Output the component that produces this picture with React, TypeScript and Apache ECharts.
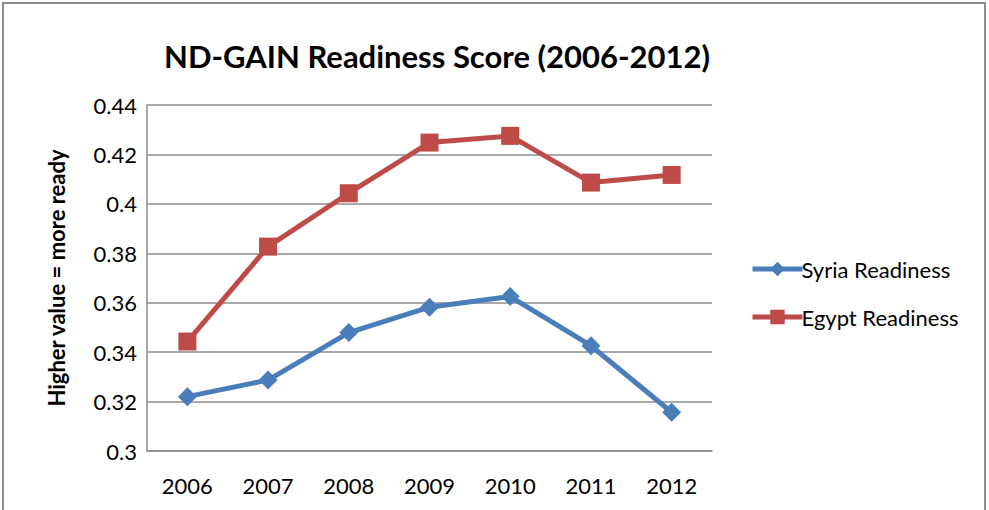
import React, { useEffect, useRef } from "react";
import * as echarts from "echarts";

const years = ["2006", "2007", "2008", "2009", "2010", "2011", "2012"];
const syria = [0.322, 0.3287, 0.3479, 0.3582, 0.3625, 0.3426, 0.3157];
const egypt = [0.3443, 0.3827, 0.4043, 0.4248, 0.4275, 0.4086, 0.4117];
const yTicks = { min: 0.3, max: 0.44, interval: 0.02 };

const FONT = "Lato, 'Open Sans', sans-serif";

export default function App() {
  const ref = useRef<HTMLDivElement>(null);
  useEffect(() => {
    if (!ref.current) return;
    const chart = echarts.init(ref.current, null, { renderer: "svg" });
    chart.setOption({
      animation: false,
      backgroundColor: "#ffffff",
      textStyle: { fontFamily: FONT },
      title: {
        text: "ND-GAIN Readiness Score (2006-2012)",
        left: 432,
        textAlign: "center",
        top: 35,
        textStyle: { fontFamily: FONT, fontWeight: "bold", fontSize: 31, color: "#000" },
      },
      graphic: [
        {
          type: "rect",
          shape: { x: 3, y: 3, width: 982, height: 530 },
          style: { fill: "none", stroke: "#8c8c8c", lineWidth: 2 },
          silent: true,
        },
      ],
      legend: {
        orient: "vertical",
        left: 745,
        top: 253,
        itemWidth: 50,
        itemHeight: 18,
        itemGap: 26,
        lineStyle: { width: 5 },
        textStyle: { fontFamily: FONT, fontSize: 22, color: "#000", padding: [0, 0, 0, -6] },
        data: ["Syria Readiness", "Egypt Readiness"],
      },
      grid: { left: 147, right: 277, top: 105, bottom: 59, containLabel: false },
      xAxis: {
        type: "category",
        data: years,
        boundaryGap: true,
        axisLine: { lineStyle: { color: "#8c8c8c", width: 1.5 } },
        axisTick: { show: false },
        axisLabel: { fontFamily: FONT, fontSize: 22, color: "#000", margin: 23 },
      },
      yAxis: {
        type: "value",
        min: yTicks.min,
        max: yTicks.max,
        interval: yTicks.interval,
        name: "Higher value = more ready",
        nameLocation: "middle",
        nameGap: 80,
        nameTextStyle: { fontFamily: FONT, fontWeight: "bold", fontSize: 22, color: "#000" },
        axisLine: { show: true, lineStyle: { color: "#8c8c8c", width: 1.5 } },
        axisTick: { show: false },
        splitLine: { lineStyle: { color: "#8c8c8c", width: 1.5 } },
        axisLabel: {
          fontFamily: FONT,
          fontSize: 22,
          color: "#000",
          margin: 10,
          formatter: (v: number) => String(parseFloat(v.toFixed(2))),
        },
      },
      series: [
        {
          name: "Syria Readiness",
          type: "line",
          data: syria,
          symbol: "diamond",
          symbolSize: 19,
          lineStyle: { color: "#4a7ebb", width: 5 },
          itemStyle: { color: "#4a7ebb" },
        },
        {
          name: "Egypt Readiness",
          type: "line",
          data: egypt,
          symbol: "rect",
          symbolSize: 18,
          lineStyle: { color: "#be4b48", width: 5 },
          itemStyle: { color: "#be4b48" },
        },
      ],
    });
    return () => chart.dispose();
  }, []);
  return <div ref={ref} style={{ width: 989, height: 510, position: "absolute", left: 0, top: 0 }} />;
}
